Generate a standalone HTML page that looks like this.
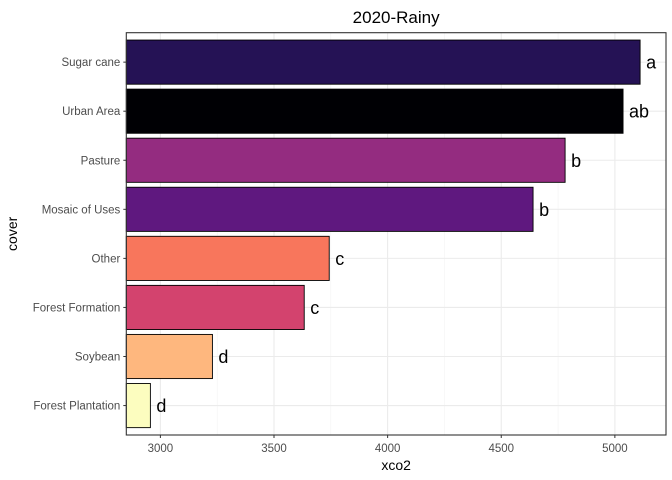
<!DOCTYPE html>
<html><head><meta charset="utf-8"><style>body{margin:0;background:#fff}svg{display:block;font-family:"Liberation Sans",Arial,sans-serif}</style></head>
<body>
<svg id="chart" width="672" height="480" viewBox="0 0 672 480"></svg>
<script>
const categories=["Sugar cane","Urban Area","Pasture","Mosaic of Uses","Other","Forest Formation","Soybean","Forest Plantation"];
const values=[5111,5036,4781,4640,3743,3633,3229,2956];
const letters=["a","ab","b","b","c","c","d","d"];
const colors=["#251255","#000004","#942c80","#5f187f","#f8765c","#d3436e","#feb77e","#fcfdbf"];
const xTicks=[3000,3500,4000,4500,5000];
const NS="http://www.w3.org/2000/svg";
const svg=document.getElementById('chart');
const L=126.3,R=666,T=32.7,B=435,xmin=2850,xmax=5225;
const x=v=>L+(v-xmin)/(xmax-xmin)*(R-L);
const unit=(B-T)/(categories.length+0.2);
const yc=i=>T+unit*(i+0.6);
function mk(tag,attrs,parent){const e=document.createElementNS(NS,tag);for(const k in attrs)e.setAttribute(k,attrs[k]);(parent||svg).appendChild(e);return e;}
const grid=mk('g',{});


for(let i=0;i<xTicks.length;i++){
 mk('line',{x1:x(xTicks[i]),x2:x(xTicks[i]),y1:T,y2:B,stroke:'#ebebeb','stroke-width':1.1},grid);
 const m=xTicks[i]-250; if(x(m)>L) mk('line',{x1:x(m),x2:x(m),y1:T,y2:B,stroke:'#f3f3f3','stroke-width':0.6},grid);
}
const lm=xTicks[xTicks.length-1]+250; if(x(lm)<R) mk('line',{x1:x(lm),x2:x(lm),y1:T,y2:B,stroke:'#f3f3f3','stroke-width':0.6},grid);
categories.forEach((c,i)=>mk('line',{x1:L,x2:R,y1:yc(i),y2:yc(i),stroke:'#ebebeb','stroke-width':1.1},grid));
categories.forEach((c,i)=>{
 const h=unit*0.9;
 const r=mk('rect',{x:L,y:yc(i)-h/2,width:x(values[i])-L,height:h,fill:colors[i],stroke:'#000','stroke-width':0.9});
 
 
 const t=mk('text',{x:x(values[i])+6,y:yc(i)+6.5,'font-size':18,fill:'#000'});
 t.textContent=letters[i];
 
 
 mk('line',{x1:L-3,x2:L,y1:yc(i),y2:yc(i),stroke:'#333'});
 const yl=mk('text',{x:L-6,y:yc(i)+4,'font-size':11.5,fill:'#4d4d4d','text-anchor':'end'});
 yl.textContent=c;
 
 
});
xTicks.forEach(v=>{
 mk('line',{x1:x(v),x2:x(v),y1:B,y2:B+3,stroke:'#333'});
 const t=mk('text',{x:x(v),y:B+17,'font-size':11.5,fill:'#4d4d4d','text-anchor':'middle'});
 t.textContent=v;
 
 
});
const border=mk('rect',{x:L,y:T,width:R-L,height:B-T,fill:'none',stroke:'#333','stroke-width':1.1});


const title=mk('text',{x:(L+R)/2,y:23,'font-size':17,'text-anchor':'middle',fill:'#000'});
title.textContent='2020-Rainy';


const xt=mk('text',{x:(L+R)/2,y:470,'font-size':14,'text-anchor':'middle',fill:'#000'});
xt.textContent='xco2';


const yt=mk('text',{x:0,y:0,'font-size':14,'text-anchor':'middle',fill:'#000',transform:`translate(17,${(T+B)/2}) rotate(-90)`});
yt.textContent='cover';


</script>
</body></html>
